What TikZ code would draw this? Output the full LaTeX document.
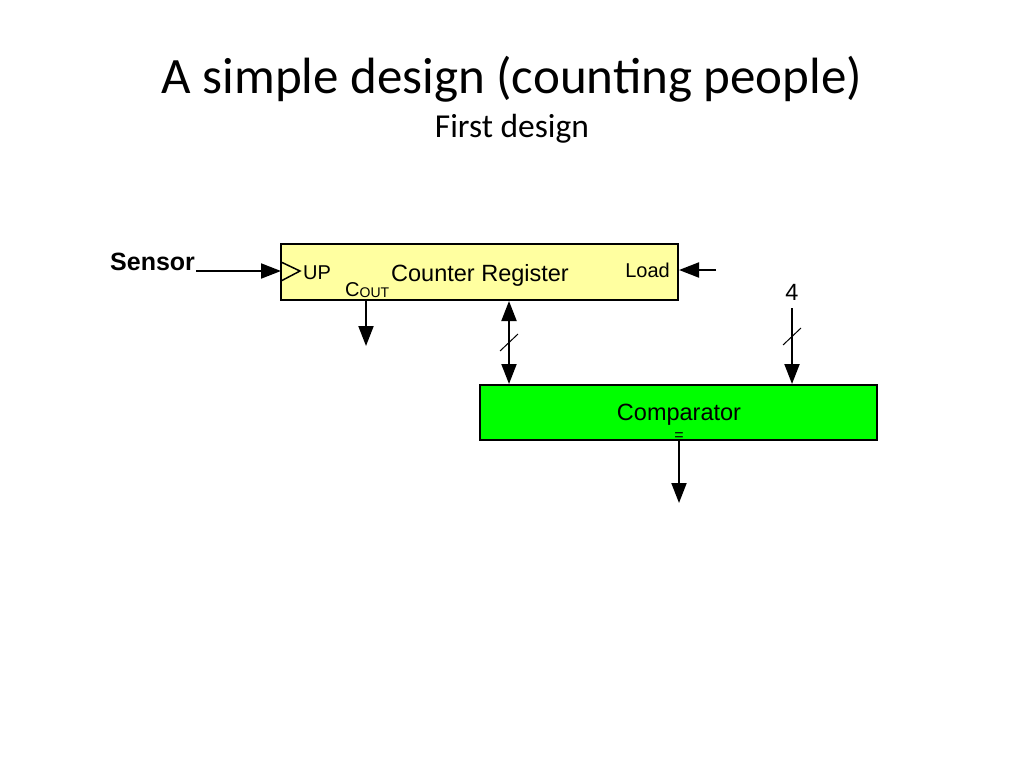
\documentclass[tikz,border=0pt]{standalone}
\usepackage{fontspec}
\setmainfont{Liberation Sans}
\newfontfamily\titlefont{Carlito}
\usetikzlibrary{arrows.meta}
\definecolor{regyellow}{HTML}{FFFFA0}
\definecolor{cmpgreen}{HTML}{00FF00}
\begin{document}
\begin{tikzpicture}[x=1pt,y=-1pt,
  blk/.style={draw=black,line width=2pt},
  wire/.style={line width=2pt,-{Triangle[length=20pt,width=15pt]}},
  bwire/.style={line width=2pt,{Triangle[length=20pt,width=15pt]}-{Triangle[length=20pt,width=15pt]}},
  lbl/.style={inner sep=0pt,font=\fontsize{20}{24}\selectfont},
  biglbl/.style={inner sep=0pt,font=\fontsize{23.5}{28}\selectfont}]
\useasboundingbox (0,0) rectangle (1024,768);
% title
\node[inner sep=0pt,anchor=base,font=\titlefont\fontsize{51}{60}\selectfont] (title) at (512,93) {A simple design (counting people)};
\node[inner sep=0pt,anchor=base,font=\titlefont\fontsize{33.5}{40}\selectfont] (sub) at (512,137) {First design};
% boxes
\draw[blk,fill=regyellow] (281,244) rectangle (678,300);
\draw[blk,fill=cmpgreen] (480,385) rectangle (877,440);
% clock triangle
\draw[line width=1.5pt] (281,262) -- (300,271) -- (281,281);
% texts
\node[inner sep=0pt,anchor=base west,font=\bfseries\fontsize{25}{30}\selectfont] (sensor) at (110,270) {Sensor};
\node[lbl,anchor=base west] (up) at (303,279) {UP};
\node[biglbl,anchor=base] (reg) at (480,281) {Counter Register};
\node[lbl,anchor=base east] (load) at (670,277) {Load};
\node[lbl,anchor=base west] (cout) at (345,296) {C\raisebox{-0.08em}{\fontsize{14}{16}\selectfont OUT}};
\node[biglbl,anchor=base] (four) at (792,300) {4};
\node[biglbl,anchor=base] (cmp) at (679,420) {Comparator};
\node[inner sep=0pt,font=\fontsize{16}{18}\selectfont] (eq) at (679,437) {=};
% coordinates
\coordinate (sensorEnd) at (196,271);
\coordinate (clkIn) at (281,271);
\coordinate (loadSrc) at (716,270);
\coordinate (loadIn) at (679,270);
\coordinate (coutTop) at (366,301);
\coordinate (coutEnd) at (366,346);
\coordinate (busTop) at (509,301);
\coordinate (busBot) at (509,384);
\coordinate (fourTop) at (792,308);
\coordinate (fourBot) at (792,384);
\coordinate (eqTop) at (679,441);
\coordinate (eqEnd) at (679,503);
% wires
\draw[wire] (sensorEnd) -- (clkIn);
\draw[wire] (loadSrc) -- (loadIn);
\draw[wire] (coutTop) -- (coutEnd);
\draw[bwire] (busTop) -- (busBot);
\draw[wire] (fourTop) -- (fourBot);
\draw[wire] (eqTop) -- (eqEnd);
% bus slashes
\draw[line width=1pt] (500,351) -- (518,334);
\draw[line width=1pt] (783,345) -- (801,328);
\end{tikzpicture}
\end{document}
